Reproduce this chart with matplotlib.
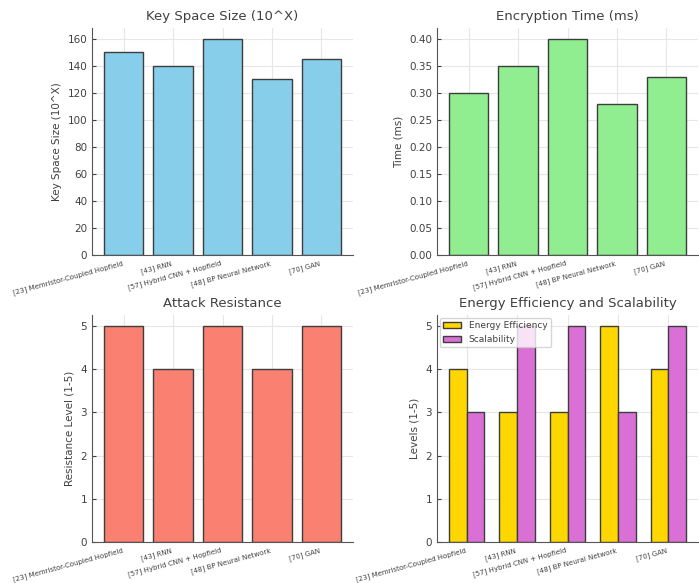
import matplotlib
matplotlib.use('Agg')
import matplotlib.pyplot as plt
import numpy as np

methods = ['[23] Memristor-Coupled Hopfield', '[43] RNN', '[57] Hybrid CNN + Hopfield',
           '[48] BP Neural Network', '[70] GAN']
key_space = [150, 140, 160, 130, 145]
enc_time = [0.30, 0.35, 0.40, 0.28, 0.33]
attack_res = [5, 4, 5, 4, 5]
energy_eff = [4, 3, 3, 5, 4]
scalability = [3, 5, 5, 3, 5]

text_color = '#404040'
plt.rcParams.update({
    'font.family': 'DejaVu Sans',
    'text.color': text_color,
    'axes.labelcolor': text_color,
    'xtick.color': text_color,
    'ytick.color': text_color,
    'axes.edgecolor': '#555555',
    'grid.color': '#e6e6e6',
    'grid.linewidth': 0.8,
})

fig = plt.figure(figsize=(6.99, 5.83), dpi=100)
W, H = 699, 583


def make_ax(x0, top, bottom):
    return fig.add_axes([x0 / W, (H - bottom) / H, 261 / W, (bottom - top) / H])


def style(ax, title, ylabel):
    ax.set_title(title, fontsize=9.5, color=text_color, pad=6)
    ax.set_ylabel(ylabel, fontsize=7.5)
    ax.set_axisbelow(True)
    ax.grid(True)
    for s in ['top', 'right']:
        ax.spines[s].set_visible(False)
    ax.tick_params(axis='y', labelsize=7.5, direction='in', length=3)
    ax.tick_params(axis='x', labelsize=5, direction='in', length=2)
    ax.set_xticks(np.arange(len(methods)))
    ax.set_xticklabels(methods, rotation=15, ha='right')


x = np.arange(len(methods))
edge = '#3d3d3d'

ax1 = make_ax(92, 28, 255)
ax1.bar(x, key_space, color='skyblue', edgecolor=edge, linewidth=1)
ax1.set_ylim(0, 168)
style(ax1, 'Key Space Size (10^X)', 'Key Space Size (10^X)')

ax2 = make_ax(437, 28, 255)
ax2.bar(x, enc_time, color='lightgreen', edgecolor=edge, linewidth=1)
ax2.set_ylim(0, 0.42)
ax2.set_yticks(np.arange(0, 0.41, 0.05))
style(ax2, 'Encryption Time (ms)', 'Time (ms)')

ax3 = make_ax(92, 315, 542)
ax3.bar(x, attack_res, color='salmon', edgecolor=edge, linewidth=1)
ax3.set_ylim(0, 5.25)
style(ax3, 'Attack Resistance', 'Resistance Level (1-5)')

ax4 = make_ax(437, 315, 542)
w = 0.35
ax4.bar(x - w / 2, energy_eff, w, color='gold', edgecolor=edge, linewidth=1, label='Energy Efficiency')
ax4.bar(x + w / 2, scalability, w, color='orchid', edgecolor=edge, linewidth=1, label='Scalability')
ax4.set_ylim(0, 5.25)
style(ax4, 'Energy Efficiency and Scalability', 'Levels (1-5)')
ax4.legend(loc='upper left', fontsize=6.5, frameon=True, borderaxespad=0.3)

plt.savefig('out.png', dpi=100)
